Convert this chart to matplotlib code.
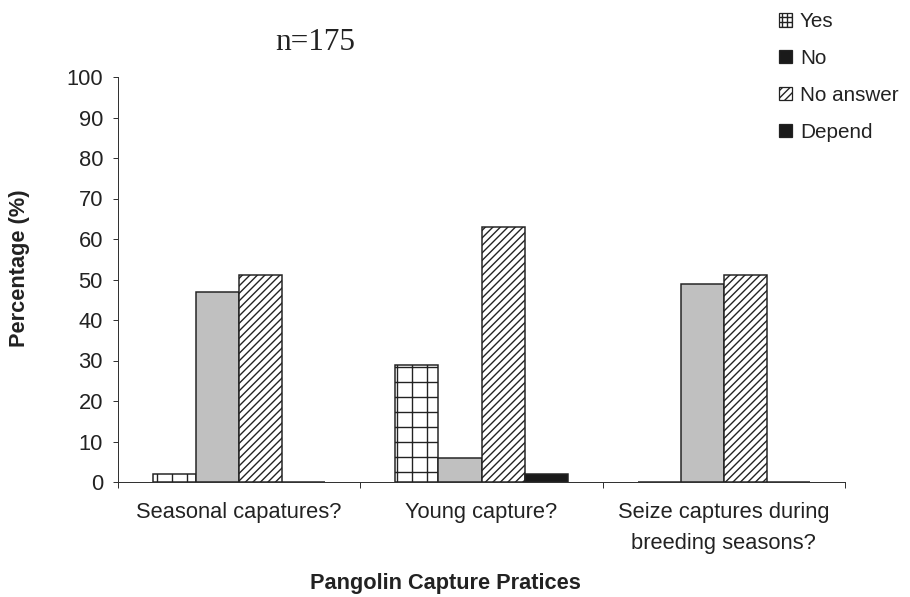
import numpy as np
import matplotlib
matplotlib.use("Agg")
import matplotlib.pyplot as plt
from matplotlib.patches import Patch

# survey answers (%) per question
questions = ["Seasonal capatures?", "Young capture?",
             "Seize captures during\nbreeding seasons?"]
answers = ["Yes", "No", "No answer", "Depend"]
yes = [2, 29, 0]
no = [47, 6, 49]
no_answer = [51, 63, 51]
depend = [0, 2, 0]
series = [yes, no, no_answer, depend]

faces = ["white", "#c0c0c0", "white", "#1a1a1a"]
hatches = ["+", None, "////", None]
legend_faces = ["white", "#1a1a1a", "white", "#1a1a1a"]
legend_hatches = ["+++", None, "////", None]

DPI = 90
W, H = 910, 597

plt.rcParams["font.family"] = ["Liberation Sans", "DejaVu Sans"]
plt.rcParams["hatch.linewidth"] = 1.1
plt.rcParams["hatch.color"] = "#222222"
plt.rcParams["text.color"] = "#222222"
plt.rcParams["xtick.color"] = "#333333"
plt.rcParams["ytick.color"] = "#333333"
plt.rcParams["xtick.labelcolor"] = "#222222"
plt.rcParams["ytick.labelcolor"] = "#222222"

fig = plt.figure(figsize=(W / DPI, H / DPI), dpi=DPI)
ax = fig.add_axes([118 / W, 1 - 482 / H, (845 - 118) / W, (482 - 77) / H])

x = np.arange(len(questions))
w = 0.178
for i, vals in enumerate(series):
    ax.bar(x + (i - 1.5) * w, vals, w, color=faces[i], hatch=hatches[i],
           edgecolor="#222222", linewidth=1.2, zorder=2)

ax.set_xlim(-0.5, len(questions) - 0.5)
ax.set_ylim(0, 100)
ax.set_yticks(np.arange(0, 101, 10))

# group boundaries get the tick marks, centres get the labels
ax.set_xticks(np.arange(-0.5, len(questions), 1.0))
ax.set_xticklabels([])
ax.set_xticks(x, minor=True)
ax.set_xticklabels(questions, minor=True, fontsize=17.5, linespacing=1.6,
                   va="top")
ax.tick_params(axis="x", which="minor", length=0, pad=16)
ax.tick_params(axis="x", which="major", length=4.8, width=0.8,
               direction="out")
ax.tick_params(axis="y", length=4, width=0.8, direction="out",
               labelsize=17.5, pad=8)

for s in ["top", "right"]:
    ax.spines[s].set_visible(False)
for s in ["left", "bottom"]:
    ax.spines[s].set_color("#333333")
    ax.spines[s].set_linewidth(0.8)

fig.text(20 / W, 1 - 268 / H, "Percentage (%)", rotation=90,
         ha="center", va="center", fontsize=17.4, fontweight="bold")
fig.text(445 / W, 1 - 584 / H, "Pangolin Capture Pratices",
         ha="center", va="center", fontsize=17.4, fontweight="bold")
fig.text(315 / W, 1 - 50 / H, "n=175", ha="center", va="baseline",
         fontsize=25, family="Liberation Serif")

handles = [Patch(facecolor=legend_faces[i], hatch=legend_hatches[i],
                 edgecolor="#222222", linewidth=1.0)
           for i in range(len(answers))]
fig.legend(handles, answers, loc="upper left",
           bbox_to_anchor=(771 / W, 1 - 4 / H), frameon=False,
           fontsize=16.5, handlelength=0.6, handleheight=0.6,
           handletextpad=0.4, labelspacing=0.87, borderaxespad=0)

fig.savefig("out.png", dpi=DPI)
